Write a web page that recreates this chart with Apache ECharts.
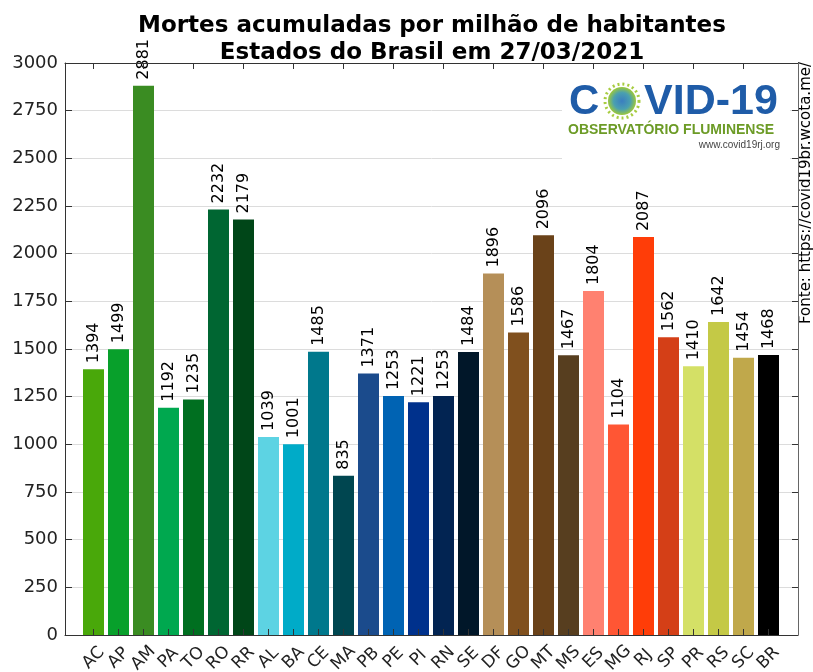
<!DOCTYPE html>
<html>
<head>
<meta charset="utf-8">
<script src="https://cdn.jsdelivr.net/npm/echarts@6/dist/echarts.min.js"></script>
<style>
  html, body { margin: 0; padding: 0; background: #fff; }
  #chart { width: 813px; height: 672px; }
</style>
</head>
<body>
<div id="chart"></div>
<script>
const states = ['AC', 'AP', 'AM', 'PA', 'TO', 'RO', 'RR', 'AL', 'BA', 'CE', 'MA', 'PB', 'PE', 'PI',
  'RN', 'SE', 'DF', 'GO', 'MT', 'MS', 'ES', 'MG', 'RJ', 'SP', 'PR', 'RS', 'SC', 'BR']
const deaths = [1394, 1499, 2881, 1192, 1235, 2232, 2179, 1039, 1001, 1485, 835, 1371, 1253, 1221,
  1253, 1484, 1896, 1586, 2096, 1467, 1804, 1104, 2087, 1562, 1410, 1642, 1454, 1468]
const colors = ['#49a80a', '#08a02b', '#3a8c22', '#00a84f', '#006f20', '#006632', '#004618',
  '#5dd3e3', '#00abc8', '#00788c', '#004650', '#1b4b8c', '#0063b3', '#00318c', '#022452', '#011729',
  '#b58f58', '#80501e', '#6a4219', '#573e1f', '#ff8170', '#ff5634', '#ff3d08', '#d43f17',
  '#d4e066', '#c4c946', '#c0a84b', '#000000']

const font = 'DejaVu Sans'
const axisColor = '#333'
const chart = echarts.init(document.getElementById('chart'))

chart.setOption({
  animation: false,
  title: {
    text: 'Mortes acumuladas por milhão de habitantes\nEstados do Brasil em 27/03/2021',
    left: 427, top: 8, textAlign: 'center',
    textStyle: { fontFamily: font, fontSize: 23, fontWeight: 'bold', color: '#000', lineHeight: 27 }
  },
  grid: [
    // frame + value axis
    { left: 65, right: 15, top: 63, bottom: 37, outerBoundsMode: 'none' },
    // bars: padded inside the frame
    { left: 81, right: 32, top: 63, bottom: 37, outerBoundsMode: 'none' }
  ],
  xAxis: [
    {
      gridIndex: 0, type: 'value', min: 0, max: 1, position: 'bottom',
      axisLine: { show: true, onZero: false, lineStyle: { color: axisColor } },
      axisTick: { show: false }, axisLabel: { show: false }, splitLine: { show: false }
    },
    {
      gridIndex: 0, type: 'value', min: 0, max: 1, position: 'top',
      axisLine: { show: true, onZero: false, lineStyle: { color: axisColor } },
      axisTick: { show: false }, axisLabel: { show: false }, splitLine: { show: false }
    },
    {
      gridIndex: 1, type: 'category', data: states, position: 'bottom', z: 10,
      axisLine: { show: true, onZero: false, lineStyle: { color: axisColor } },
      axisTick: { show: true, inside: true, alignWithLabel: true, length: 6, lineStyle: { color: axisColor } },
      axisLabel: { rotate: 45, fontFamily: font, fontSize: 17, color: '#222', margin: 23,
        align: 'center', verticalAlign: 'middle', interval: 0 }
    },
    {
      gridIndex: 1, type: 'category', data: states, position: 'top', z: 60,
      axisLine: { show: true, onZero: false, lineStyle: { color: axisColor } },
      axisTick: { show: true, inside: true, alignWithLabel: true, length: 6, lineStyle: { color: axisColor } },
      axisLabel: { show: false }
    }
  ],
  yAxis: [
    {
      gridIndex: 0, type: 'value', min: 0, max: 3000, interval: 250,
      axisLine: { show: true, onZero: false, lineStyle: { color: axisColor } },
      axisTick: { show: true, inside: true, length: 7, lineStyle: { color: axisColor } },
      axisLabel: { fontFamily: font, fontSize: 18, color: '#222', margin: 7, formatter: v => String(v) },
      splitLine: { lineStyle: { color: '#dcdcdc' } }
    },
    {
      gridIndex: 0, type: 'value', min: 0, max: 3000, interval: 250, position: 'right', z: 60,
      axisLine: { show: true, onZero: false, lineStyle: { color: '#666' } },
      axisTick: { show: true, inside: true, length: 6, lineStyle: { color: axisColor } },
      axisLabel: { show: false },
      splitLine: { show: false }
    },
    {
      gridIndex: 1, type: 'value', min: 0, max: 3000,
      show: false, splitLine: { show: false }
    }
  ],
  series: [{
    type: 'bar',
    xAxisIndex: 2, yAxisIndex: 2,
    data: deaths.map((v, i) => ({ value: v, itemStyle: { color: colors[i] } })),
    barWidth: 21,
    label: {
      show: true, position: 'top', rotate: 90, align: 'left', verticalAlign: 'middle',
      distance: 6, fontFamily: font, fontSize: 16, color: '#000'
    }
  }],
  graphic: [
    // logo area
    { type: 'rect', shape: { x: 562, y: 70, width: 228, height: 90 }, style: { fill: '#fff' }, z: 50 },
    { type: 'text', x: 569, y: 81, z: 51,
      style: { text: 'C', font: 'bold 42px "Liberation Sans"', fill: '#1f5ca8' } },
    { type: 'circle', shape: { cx: 622, cy: 101, r: 14 }, z: 51,
      style: { fill: { type: 'radial', x: 0.5, y: 0.5, r: 0.5,
        colorStops: [{ offset: 0, color: '#3a7ec0' }, { offset: 0.6, color: '#4aa0b0' }, { offset: 1, color: '#9cc83a' }] } } },
    { type: 'circle', shape: { cx: 622, cy: 101, r: 17 }, z: 50,
      style: { fill: 'none', stroke: '#a8cc40', lineWidth: 3, lineDash: [2, 3] } },
    { type: 'text', x: 644, y: 81, z: 51,
      style: { text: 'VID-19', font: 'bold 43px "Liberation Sans"', fill: '#1f5ca8' } },
    { type: 'text', x: 568, y: 123, z: 51,
      style: { text: 'OBSERVATÓRIO FLUMINENSE', font: 'bold 14px "Liberation Sans"', fill: '#6c9b26' } },
    { type: 'text', x: 780, y: 140, z: 51,
      style: { text: 'www.covid19rj.org', font: '10px "Liberation Sans"', fill: '#444', align: 'right' } },
    // source text
    { type: 'text', x: 806, y: 193, rotation: Math.PI / 2, z: 51,
      style: { text: 'Fonte: https://covid19br.wcota.me/', font: '15px "DejaVu Sans"', fill: '#000',
        align: 'center', verticalAlign: 'middle' } }
  ]
})
</script>
</body>
</html>
